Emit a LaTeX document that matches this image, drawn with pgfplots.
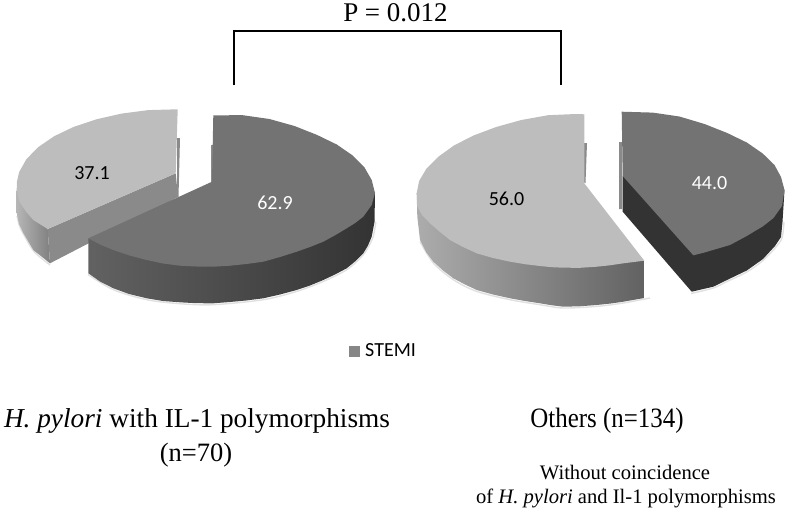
\documentclass[border=0pt]{standalone}
\usepackage{graphicx}
\usepackage{pgfplots}
\pgfplotsset{compat=1.18}
\usepackage{fontspec}
\setmainfont{Liberation Serif}
\newfontfamily\calfont{Carlito}
\definecolor{lighttop}{HTML}{BDBDBD}
\definecolor{darktop}{HTML}{737373}
\definecolor{innerface}{HTML}{8A8A8A}
\definecolor{darkside}{HTML}{333333}
\pgfplotsset{slice/.style={draw=none,mark=none,forget plot},
  shadow/.style={smooth,draw=black!12,line width=1.4pt,mark=none,forget plot}}
\begin{document}
\begin{tikzpicture}
\begin{axis}[
  scale only axis, width=786pt, height=509pt,
  axis lines=none, clip=false,
  xmin=0, xmax=786, ymin=0, ymax=509, y dir=reverse,
  legend style={at={(axis cs:349,351)},anchor=west,draw=none,fill=none,
    font=\calfont\fontsize{20}{22}\selectfont,inner sep=0pt},
]
% soft edges under the pies
\addplot[shadow] coordinates {(17,216)(19.5,226)(24,235)(34,251.5)(50,265)};
\addplot[shadow] coordinates {(88,274.5)(113.3,289.7)(146.7,299.7)(180,303.7)(213.3,304.7)(263.3,299.7)(296.7,291.4)(323.3,281.4)(346.7,269.7)(363.3,254.7)(372.7,238)(375.8,222)};
\addplot[shadow] coordinates {(420,241.5)(433.3,263)(453.3,279.7)(476.7,291.4)(510,299.7)(540,304.7)(563.3,308)(596.7,306.4)(623.3,303)(650,298)};
\addplot[shadow] coordinates {(691,293.5)(713.3,288)(727,281.5)(746.8,272)(763,260.5)(775.5,247.5)(782,238)(784,222)};
% left pie, light slice: side, slivers, inner face, top
\addplot[slice,left color=lightgray!95!black,right color=gray] coordinates {
  (16.7,190)(16.7,213)(19,224)(23.3,233)(33.3,250)(50,263.3)(47.7,229)(16.7,190)};
\addplot[slice,fill=innerface] coordinates {(177,138)(180,138)(178.5,197)(177,197)(177,138)};
\addplot[slice,fill=innerface] coordinates {(47.7,229)(50,263.3)(178,197)(175.7,173.3)(47.7,229)};
\addplot[slice,fill=lighttop] coordinates {
  (177.7,109.3)(148.3,110.1)(121.5,113.6)(96.4,119.3)(73.6,126.9)(54,136.3)(38,147.3)(26.3,159.3)
  (19.1,172.2)(16.9,182)(16.7,190)(19.5,202)(26.3,212)(33.3,220)(47.7,229)(175.7,173.3)(177.7,109.3)};
% left pie, dark slice
\addplot[slice,left color=darktop!85!black,right color=darkside] coordinates {
  (375,193)(374.5,222)(371.7,236.7)(368,245.5)(363.3,253.3)(355,261.5)(346.7,268.3)(335,274.5)(323.3,280)
  (310,285.5)(296.7,290)(280,294.5)(263.3,298.3)(246,300.5)(230,302)(213.3,303.3)(196,303.2)(180,302.3)
  (163,301)(146.7,298.3)(129,294)(113.3,288.3)(100,281.5)(88.3,273.3)
  (88.3,238.3)(212,225)(375,193)};
\addplot[slice,fill=innerface] coordinates {(211,145)(213.5,145)(213.5,182)(211,182)(211,145)};
\addplot[slice,fill=darktop] coordinates {
  (213.3,115.3)(242.7,115.2)(269.4,119)(294.5,126)(317.2,135)(336.8,144.5)(352.7,155.5)(364.5,167.5)
  (371.7,180)(375,193)(371.7,205)(363.3,216.7)(355.5,222.8)(346.7,228.3)(335,235.3)(323.3,241.7)(310,247)
  (296.7,251.7)(280,257)(263.3,261.7)(246.5,264)(230,265.7)(213.3,266.7)(196.5,266.5)(180,265.7)
  (163,263.5)(146.7,260)(129.5,255.5)(113.3,250)(100,244.5)(88.3,238.3)
  (212,181.7)(213.3,115.3)};
% right pie, light slice
\addplot[slice,left color=lightgray!90!black,right color=darktop!85!black] coordinates {
  (416.7,193)(417.3,216.7)(420,240)(426,252)(433.3,261.7)(443,270.5)(453.3,278.3)(465,284.5)(476.7,290)
  (493,294.5)(510,298.3)(525,301)(540,303.3)(552,305.3)(563.3,306.7)(580,306.3)(596.7,305)(610,303.6)
  (623.3,301.7)(644.3,298)(644.3,260.7)(416.7,193)};
\addplot[slice,fill=innerface] coordinates {(584,143)(587,143)(585.5,183)(581.5,181)(584,143)};
\addplot[slice,fill=lighttop] coordinates {
  (584.3,114.3)(575.7,114)(548.1,115.2)(521.3,120)(496.2,127)(473.5,135.5)(453.9,145.5)(438,157)
  (426.2,169)(419.1,181)(416.7,193)(417.3,206.7)(422,215)(430,223.3)(440,232)(450,240)(463,247)(476.7,253.3)
  (493,258)(510,261.7)(525,264.2)(540,266)(552,267.2)(563.3,267.7)(580,267.8)(596.7,266.7)(610,265.3)
  (623.3,263.3)(644.3,260.7)
  (584.3,183.3)(584.3,114.3)};
% right pie, dark slice
\addplot[slice,fill=innerface] coordinates {(619,142)(622,142)(622,209)(619,209)(619,142)};
\addplot[slice,fill=darkside] coordinates {
  (784.5,190)(782.5,222)(781,237)(775,246)(763,259)(746.8,270.5)(727,280)(713.3,286.7)(691.7,291.7)
  (622.7,211.7)(622.7,176)(700,200)(784.5,190)};
\addplot[slice,fill=darktop] coordinates {
  (621.7,111.7)(652.7,112.6)(679.4,116.5)(704.5,124)(727.2,133)(746.8,142.5)(762.7,153.5)(774.5,165)
  (781,177)(784.5,190)(782,206)(773.5,218)(762.7,226.5)(756.7,230)(746.8,236)(730,245)(704.5,252.5)
  (693.3,255.3)(622.7,176)(621.7,111.7)};
% bracket
\addplot[black,line width=2pt,line join=miter,forget plot] coordinates {(233.5,85)(233.5,30.5)(560.7,30.5)(560.7,85)};
% legend entry
\addplot[draw=none,area legend,fill=gray!95,
  legend image code/.code={\fill[gray!95] (0pt,-5.5pt) rectangle (11pt,5.5pt);}] coordinates {(350,350)};
\addlegendentry{\hspace{3pt}STEMI}
% labels
\node[font=\calfont\fontsize{20}{22}\selectfont] at (axis cs:92,173) {37.1};
\node[font=\calfont\fontsize{20}{22}\selectfont,white] at (axis cs:275,203) {62.9};
\node[font=\calfont\fontsize{20}{22}\selectfont] at (axis cs:506.5,199) {56.0};
\node[font=\calfont\fontsize{20}{22}\selectfont,white] at (axis cs:709.5,183) {44.0};
\node[font=\fontsize{27}{29}\selectfont] at (axis cs:395.5,13) {P = 0.012};
\node[font=\fontsize{27.3}{29}\selectfont] at (axis cs:197,421) {\textit{H. pylori} with IL-1 polymorphisms};
\node[font=\fontsize{26.5}{28}\selectfont] at (axis cs:196,455) {(n=70)};
\node[font=\fontsize{28}{30}\selectfont] at (axis cs:607,421) {\scalebox{0.89}[1]{Others (n=134)}};
\node[font=\fontsize{20.6}{22}\selectfont] at (axis cs:625,472) {Without coincidence};
\node[font=\fontsize{20.6}{22}\selectfont] at (axis cs:626,498) {of \textit{H. pylori} and Il-1 polymorphisms};
\end{axis}
\pgfresetboundingbox
\path (0,0) rectangle (786pt,509pt);
\end{tikzpicture}
\end{document}
